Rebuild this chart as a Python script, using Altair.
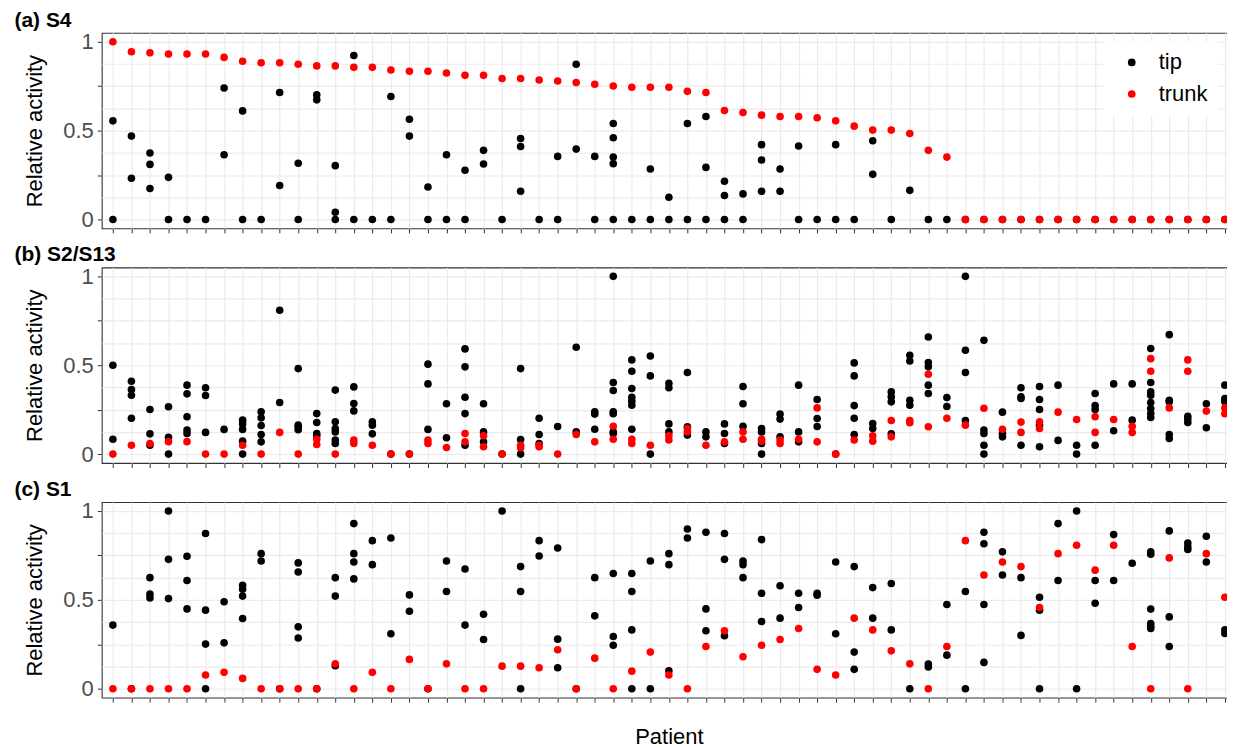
import altair as alt
import pandas as pd

FONT = "Liberation Sans"

patients = [f"P{i:02d}" for i in range(1, 62)]

# ---------------- (a) S4 ----------------
s4_tip = [
    [0.555, 0], [0.469, 0.232], [0.374, 0.310, 0.174], [0.237, 0], [0], [0],
    [0.740, 0.364], [0.611, 0], [0], [0.714, 0.191], [0.316, 0], [0.701, 0.673],
    [0.303, 0.041, 0], [0.923, 0], [0], [0.692, 0], [0.564, 0.469], [0.183, 0],
    [0.364, 0], [0.277, 0], [0.389, 0.312], [0], [0.456, 0.411, 0.159], [0],
    [0.355, 0], [0.873, 0.396], [0.355, 0], [0.540, 0.460, 0.351, 0.314, 0], [0],
    [0.284, 0], [0.125, 0], [0.540, 0], [0.579, 0.293, 0], [0.215, 0.135, 0],
    [0.144, 0], [0.421, 0.335, 0.159], [0.284, 0.159], [0.413, 0], [0],
    [0.421, 0], [0], [0.443, 0.254], [0], [0.164], [0], [0],
    [0], [0], [0], [0], [0], [0], [0], [0], [0], [0], [0], [0], [0], [0], [0],
]
s4_trunk = [
    [1.0], [0.944], [0.938], [0.931], [0.931], [0.931], [0.912], [0.890], [0.882],
    [0.882], [0.873], [0.864], [0.864], [0.856], [0.856], [0.841], [0.834], [0.834],
    [0.824], [0.811], [0.811], [0.793], [0.793], [0.785], [0.779], [0.770], [0.761],
    [0.751], [0.744], [0.744], [0.744], [0.721], [0.714], [0.613], [0.602], [0.587],
    [0.579], [0.579], [0.572], [0.555], [0.525], [0.503], [0.503], [0.484], [0.389],
    [0.351],
    [0], [0], [0], [0], [0], [0], [0], [0], [0], [0], [0], [0], [0], [0], [0],
]

# ---------------- (b) S2/S13 ----------------
s2_tip = [
    [0.50, 0.084], [0.41, 0.363, 0.331, 0.202], [0.251, 0.114, 0.05], [0.266, 0.095, 0],
    [0.388, 0.339, 0.21, 0.135, 0.116], [0.373, 0.33, 0.122], [0.139],
    [0.191, 0.170, 0.139, 0.073, 0], [0.238, 0.204, 0.161, 0.11, 0.069], [0.809, 0.29],
    [0.481, 0.163, 0.152, 0.137], [0.228, 0.178, 0.116, 0.103],
    [0.36, 0.182, 0.144, 0.125, 0.079, 0.06], [0.378, 0.285, 0.243], [0.182, 0.163, 0.114],
    [0], [0], [0.506, 0.395, 0.139], [0.283, 0.092], [0.592, 0.491, 0.32, 0.228, 0.05],
    [0.283, 0.125, 0.069], [0], [0.481, 0.082, 0], [0.202, 0.11, 0.06], [0.155],
    [0.601, 0.125], [0.238, 0.225, 0.14], [1.0, 0.403, 0.358, 0.238, 0.227, 0.125, 0.116],
    [0.53, 0.466, 0.369, 0.32, 0.298, 0.275, 0.14], [0.552, 0.44, 0],
    [0.399, 0.373, 0.17, 0.125], [0.459, 0.154, 0.107], [0.125, 0.097], [0.17, 0.116, 0.06],
    [0.38, 0.283, 0.157], [0.144, 0.125, 0.06, 0], [0.225, 0.197, 0.097],
    [0.388, 0.125, 0.069], [0.307, 0.2, 0.155], [0], [0.513, 0.44, 0.273, 0.202, 0.11],
    [0.172, 0.144], [0.35, 0.322, 0.294, 0.114], [0.556, 0.524, 0.303, 0.275],
    [0.659, 0.515, 0.491, 0.388, 0.341], [0.318, 0.268], [1.0, 0.584, 0.459, 0.189],
    [0.64, 0.135, 0.116, 0.05, 0], [0.236, 0.116, 0.097], [0.373, 0.322, 0.313, 0.05],
    [0.38, 0.307, 0.251, 0.163, 0.041], [0.388, 0.077], [0.05, 0], [0.341, 0.273, 0.251, 0.05],
    [0.395, 0.131], [0.395, 0.191], [0.594, 0.403, 0.35, 0.331, 0.29, 0.257, 0.228, 0.206],
    [0.672, 0.303, 0.294, 0.11, 0.088], [0.213, 0.197, 0.178], [0.283, 0.148],
    [0.388, 0.313, 0.294],
]
s2_trunk = [
    [0], [0.05], [0.06], [0.07], [0.07], [0], [0], [0.05], [0], [0.122], [0],
    [0.084, 0.054], [0], [0.079, 0.06], [0.05], [0], [0], [0.079, 0.06], [0.037],
    [0.116, 0.069], [0.103, 0.041], [0], [0.05, 0.036], [0.05, 0.041], [0], [0.11],
    [0.069], [0.157, 0.084], [0.084, 0.06], [0.05], [0.103, 0.079], [0.144, 0.125],
    [0.05], [0.069], [0.125, 0.084], [0.084, 0.073], [0.079, 0.06], [0.084],
    [0.26, 0.069], [0], [0.079], [0.103, 0.073], [0.189, 0.097], [0.189, 0.176],
    [0.449, 0.154], [0.202], [0.163], [0.258], [0.14], [0.18, 0.122], [0.182, 0.144],
    [0.236], [0.195], [0.21, 0.122], [0.195], [0.157, 0.122], [0.537, 0.466], [0.26],
    [0.53, 0.466], [0.242], [0.26, 0.227],
]

# ---------------- (c) S1 ----------------
s1_tip = [
    [0.358], [0], [0.625, 0.532, 0.511], [1.0, 0.728, 0.507], [0.745, 0.609, 0.449],
    [0.873, 0.442, 0.251, 0], [0.489, 0.258], [0.582, 0.56, 0.521, 0.395], [0.76, 0.719],
    [0], [0.708, 0.657, 0.348, 0.285], [0], [0.625, 0.521, 0.129], [0.929, 0.76, 0.713, 0.618],
    [0.833, 0.698], [0.848, 0.309], [0.528, 0.436], [0], [0.719, 0.547], [0.674, 0.358],
    [0.419, 0.277], [1.0], [0.687, 0.547, 0], [0.833, 0.747], [0.792, 0.279, 0.118], [0],
    [0.625, 0.41], [0.648, 0.294, 0.245], [0.648, 0.547, 0.331, 0], [0.719, 0],
    [0.76, 0.698, 0.101], [0.899, 0.848], [0.88, 0.449, 0.326], [0.873, 0.728, 0.298],
    [0.719, 0.698, 0.625], [0.839, 0.537, 0.378], [0.579, 0.397], [0.537, 0.457],
    [0.537, 0.526], [0.713, 0.309], [0.687, 0.206, 0.109], [0.569, 0.397], [0.592, 0.331],
    [0], [0.139, 0.122], [0.474, 0.189], [0.547, 0], [0.88, 0.816, 0.474, 0.148],
    [0.77, 0.64], [0.625, 0.3], [0.515, 0.442, 0], [0.929, 0.609], [1.0, 0],
    [0.609, 0.481], [0.867, 0.609], [0.706], [0.77, 0.757, 0.448, 0.367, 0.352, 0.339],
    [0.888, 0.404, 0.238], [0.82, 0.798, 0.783], [0.858, 0.713], [0.331, 0.311],
]
s1_trunk = [
    [0], [0], [0], [0], [0], [0.077], [0.092], [0.058], [0], [0], [0], [0], [0.14], [0],
    [0.092], [0], [0.165], [0], [0.14], [0], [0], [0.127], [0.127], [0.118], [0.219], [0],
    [0.172], [0], [0.099], [0.206], [0.077], [0], [0.238], [0.326], [0.18], [0.245],
    [0.277], [0.339], [0.109], [0.077], [0.397], [0.331], [0.213], [0.14], [0], [0.238],
    [0.833], [0.64], [0.713], [0.687], [0.457], [0.76], [0.807], [0.667], [0.807],
    [0.238], [0], [0.736], [0], [0.76], [0.515],
]

types = ["tip", "trunk"]
colors = ["#000000", "#FF0000"]
y_grid = [0, 0.125, 0.25, 0.375, 0.5, 0.625, 0.75, 0.875, 1]


def to_df(tip, trunk):
    rows = []
    for k, (kind, series) in enumerate([("tip", tip), ("trunk", trunk)]):
        for p, vals in zip(patients, series):
            for v in vals:
                rows.append({"patient": p, "type": kind, "value": v, "ord": k})
    return pd.DataFrame(rows)


W, H = 1137, 196


def panel(df, title, legend, xtitle):
    x_axis = alt.Axis(
        labels=False, ticks=True, tickSize=4.5, tickColor="#333333", tickWidth=1,
        domain=False, grid=True, gridColor="#EBEBEB", gridWidth=1.2,
        title=xtitle if xtitle else None,
        titleFont=FONT, titleFontSize=22, titleFontWeight="normal", titleColor="#000000",
        titlePadding=24,
    )
    y_axis = alt.Axis(
        values=y_grid, format="~g",
        labelExpr="datum.value % 0.5 == 0 ? datum.label : ''",
        tickOpacity={"condition": {"test": "datum.value % 0.25 == 0", "value": 1}, "value": 0},
        tickSize=4.5, tickColor="#333333", tickWidth=1, domain=False,
        grid=True, gridColor="#EBEBEB", gridWidth=1.2,
        labelFont=FONT, labelFontSize=22, labelColor="#4D4D4D", labelPadding=4,
        minExtent=40, maxExtent=40,
        title="Relative activity", titleFont=FONT, titleFontSize=22,
        titleFontWeight="normal", titleColor="#000000", titlePadding=15,
    )
    if legend:
        leg = alt.Legend(
            orient="none", legendX=1005, legendY=8.7, title=None,
            fillColor="#FFFFFF", padding=10, labelFont=FONT, labelFontSize=22,
            labelColor="#000000", symbolType="circle", symbolSize=60,
            symbolOpacity=1, symbolStrokeWidth=0, symbolOffset=6.5,
            labelOffset=16, rowPadding=9.6,
        )
    else:
        leg = None
    return alt.Chart(df).mark_circle(size=58, opacity=1).encode(
        x=alt.X("patient:N", sort=patients,
                scale=alt.Scale(type="point", padding=0.6), axis=x_axis),
        y=alt.Y("value:Q", scale=alt.Scale(domain=[-0.05, 1.05], nice=False, zero=False),
                axis=y_axis),
        color=alt.Color("type:N", scale=alt.Scale(domain=types, range=colors), legend=leg),
        order=alt.Order("ord:Q"),
    ).properties(
        width=W, height=H,
        title=alt.TitleParams(text=title, anchor="start", frame="bounds", font=FONT,
                              fontSize=21, fontWeight="bold", color="#000000",
                              offset=0, dx=-9.5),
    )


pa = panel(to_df(s4_tip, s4_trunk), "(a) S4", True, None)
pb = panel(to_df(s2_tip, s2_trunk), "(b) S2/S13", False, None)
pc = panel(to_df(s1_tip, s1_trunk), "(c) S1", False, "Patient")

chart = alt.vconcat(pa, pb, pc, spacing=9.2).resolve_scale(
    color="independent").resolve_legend(color="independent").properties(
    padding={"left": 5, "top": 0, "right": -10, "bottom": 0},
    background="#FFFFFF",
).configure_view(stroke="#333333", strokeWidth=1.1)

chart.save("out.html", embed_options={"renderer": "svg", "actions": False})
